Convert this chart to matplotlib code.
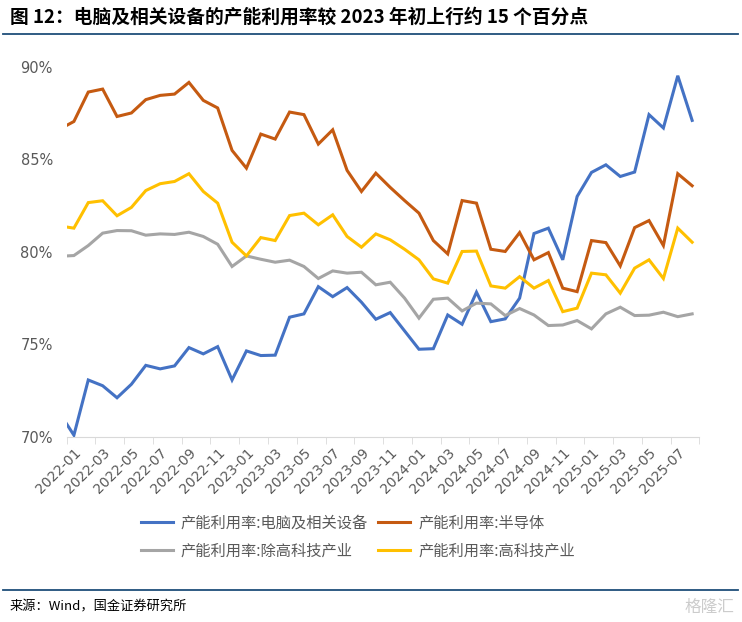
import numpy as np
import pandas as pd
import matplotlib
matplotlib.use('Agg')
import matplotlib.pyplot as plt

plt.rcParams['font.family'] = ['Noto Sans CJK SC', 'DejaVu Sans']

# monthly data, 2021-12 .. 2025-08 (first point only shows as a clipped stub)
months = pd.period_range('2021-12', '2025-08', freq='M').strftime('%Y-%m').tolist()

computer = [71.3, 70.1, 73.08, 72.77, 72.12, 72.85, 73.87, 73.68, 73.84, 74.83, 74.49,
            74.88, 73.08, 74.65, 74.40, 74.42, 76.47, 76.65, 78.12, 77.58, 78.07,
            77.28, 76.36, 76.72, 75.73, 74.74, 74.77, 76.59, 76.09, 77.82, 76.23,
            76.38, 77.50, 80.99, 81.28, 79.57, 82.99, 84.29, 84.70, 84.07, 84.31,
            87.41, 86.69, 89.51, 87.10]
semi = [86.62, 87.04, 88.63, 88.79, 87.31, 87.50, 88.22, 88.45, 88.52, 89.15, 88.18,
        87.77, 85.48, 84.52, 86.36, 86.09, 87.55, 87.41, 85.82, 86.59, 84.40,
        83.26, 84.25, 83.48, 82.77, 82.09, 80.61, 79.89, 82.77, 82.63, 80.14,
        80.02, 81.04, 79.57, 79.96, 78.04, 77.85, 80.61, 80.50, 79.24, 81.31,
        81.69, 80.34, 84.22, 83.57]
non_hitech = [79.76, 79.80, 80.34, 81.01, 81.15, 81.14, 80.90, 80.97, 80.94, 81.06, 80.83,
              80.41, 79.21, 79.78, 79.60, 79.44, 79.55, 79.21, 78.56, 78.97, 78.85,
              78.90, 78.22, 78.36, 77.50, 76.42, 77.44, 77.50, 76.81, 77.23, 77.19,
              76.56, 76.94, 76.59, 76.02, 76.05, 76.29, 75.84, 76.65, 77.01, 76.56,
              76.58, 76.74, 76.50, 76.65]
hitech = [81.40, 81.28, 82.66, 82.76, 81.95, 82.40, 83.31, 83.68, 83.80, 84.22, 83.26,
          82.63, 80.52, 79.78, 80.77, 80.61, 81.96, 82.09, 81.46, 82.00, 80.83,
          80.25, 80.97, 80.65, 80.14, 79.57, 78.54, 78.31, 80.02, 80.04, 78.16,
          78.04, 78.66, 78.04, 78.45, 76.77, 76.96, 78.85, 78.76, 77.77, 79.12,
          79.57, 78.56, 81.28, 80.52]

names = ['产能利用率:电脑及相关设备', '产能利用率:半导体',
         '产能利用率:除高科技产业', '产能利用率:高科技产业']
colors = ['#4472C4', '#C55A11', '#A5A5A5', '#FFC000']
yticks = [70, 75, 80, 85, 90]

fig = plt.figure(figsize=(7.42, 6.22), dpi=100)
ax = fig.add_axes([0.0899, 0.2974, 0.9425 - 0.0899, 0.8928 - 0.2974])

x = np.arange(len(months)) - 1
lines = []
for vals, name, c in zip([computer, semi, non_hitech, hitech], names, colors):
    ln, = ax.plot(x, vals, color=c, lw=2.2, label=name, solid_joinstyle='miter')
    lines.append(ln)

ax.set_xlim(-0.5, len(months) - 1.5)
ax.set_ylim(70, 90)
ax.set_yticks(yticks)
ax.set_yticklabels([f'{v}%' for v in yticks], color='#595959', fontsize=10.5,
                   family=['Liberation Sans Narrow', 'DejaVu Sans'])

pos = np.arange(0, len(months) - 1, 2)
ax.set_xticks(pos)
ax.set_xticklabels(months[1::2], rotation=45, ha='right', va='top',
                   rotation_mode='anchor', color='#595959', fontsize=10,
                   family=['Liberation Sans Narrow', 'DejaVu Sans'])
ax.set_xticks(np.arange(-0.5, len(months) - 1, 2), minor=True)
ax.tick_params(axis='x', which='major', length=0, pad=6)
ax.tick_params(axis='x', which='minor', length=5, color='#D9D9D9')
ax.tick_params(axis='y', length=0, pad=10)

for s in ['top', 'right', 'left']:
    ax.spines[s].set_visible(False)
ax.spines['bottom'].set_color('#D9D9D9')

fig.legend(handles=[lines[0], lines[2], lines[1], lines[3]], ncol=2,
           loc='center left', bbox_to_anchor=(133 / 742, 1 - 537 / 622),
           frameon=False, fontsize=11, labelcolor='#595959', borderpad=0,
           handlelength=2.1, handletextpad=0.5, columnspacing=0.7, labelspacing=0.7)

fig.text(0.013, 1 - 17 / 622, '图 12：电脑及相关设备的产能利用率较 2023 年初上行约 15 个百分点',
         fontsize=13.5, fontweight='bold', va='center', ha='left')
fig.add_artist(plt.Line2D([0.004, 0.995], [1 - 34 / 622] * 2, color='#1F4E79', lw=1.3))
fig.add_artist(plt.Line2D([0.004, 0.995], [1 - 590 / 622] * 2, color='#1F4E79', lw=1.3))
fig.text(0.013, 1 - 607 / 622, '来源：Wind，国金证券研究所', fontsize=9.5, va='center', ha='left')
fig.text(0.99, 1 - 607 / 622, '格隆汇', fontsize=12, color='#cccccc', va='center', ha='right')

fig.savefig('out.png', dpi=100)
